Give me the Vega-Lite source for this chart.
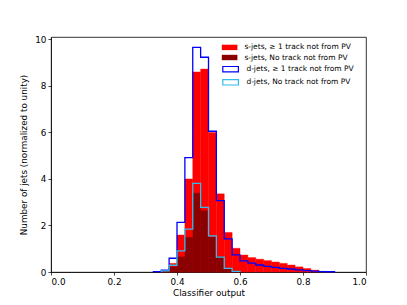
{
  "$schema": "https://vega.github.io/schema/vega-lite/v6.json",
  "width": 315,
  "height": 235,
  "autosize": {"type": "none"},
  "padding": {"left": 51, "top": 37, "right": 41, "bottom": 33},
  "background": "white",
  "config": {
    "view": {"stroke": "black", "strokeWidth": 0.8},
    "font": "DejaVu Sans",
    "axis": {
      "labelFont": "DejaVu Sans", "labelFontSize": 8.8, "labelColor": "black",
      "titleFont": "DejaVu Sans", "titleFontSize": 8.8, "titleColor": "black", "titleFontWeight": "normal",
      "tickColor": "black", "tickSize": 3.1, "tickWidth": 0.7,
      "domainColor": "black", "domainWidth": 0.7, "grid": false, "labelPadding": 2
    },
    "legend": {
      "title": null,
      "orient": "none",
      "padding": 0,
      "symbolType": "M-1.56,-0.54H1.56V0.54H-1.56Z",
      "symbolSize": 100,
      "labelFont": "DejaVu Sans",
      "labelFontSize": 7.5,
      "labelColor": "black",
      "labelOffset": 9.8,
      "rowPadding": 1.1,
      "labelLimit": 300,
      "symbolOpacity": 1
    }
  },
  "datasets": {
    "sAny": [
      {"x0": 0.35, "x1": 0.375, "y": 0.05},
      {"x0": 0.375, "x1": 0.4, "y": 0.37},
      {"x0": 0.4, "x1": 0.425, "y": 1.59},
      {"x0": 0.425, "x1": 0.45, "y": 4.0},
      {"x0": 0.45, "x1": 0.475, "y": 8.6},
      {"x0": 0.475, "x1": 0.5, "y": 8.72},
      {"x0": 0.5, "x1": 0.525, "y": 6.0},
      {"x0": 0.525, "x1": 0.55, "y": 3.36},
      {"x0": 0.55, "x1": 0.575, "y": 1.7},
      {"x0": 0.575, "x1": 0.6, "y": 1.02},
      {"x0": 0.6, "x1": 0.625, "y": 0.73},
      {"x0": 0.625, "x1": 0.65, "y": 0.62},
      {"x0": 0.65, "x1": 0.675, "y": 0.55},
      {"x0": 0.675, "x1": 0.7, "y": 0.49},
      {"x0": 0.7, "x1": 0.725, "y": 0.43},
      {"x0": 0.725, "x1": 0.75, "y": 0.37},
      {"x0": 0.75, "x1": 0.775, "y": 0.3},
      {"x0": 0.775, "x1": 0.8, "y": 0.22},
      {"x0": 0.8, "x1": 0.825, "y": 0.15},
      {"x0": 0.825, "x1": 0.85, "y": 0.08},
      {"x0": 0.85, "x1": 0.875, "y": 0.03},
      {"x0": 0.875, "x1": 0.9, "y": 0.01}
    ],
    "sNone": [
      {"x0": 0.35, "x1": 0.375, "y": 0.03},
      {"x0": 0.375, "x1": 0.4, "y": 0.22},
      {"x0": 0.4, "x1": 0.425, "y": 0.65},
      {"x0": 0.425, "x1": 0.45, "y": 1.49},
      {"x0": 0.45, "x1": 0.475, "y": 3.39},
      {"x0": 0.475, "x1": 0.5, "y": 2.64},
      {"x0": 0.5, "x1": 0.525, "y": 1.5},
      {"x0": 0.525, "x1": 0.55, "y": 0.65},
      {"x0": 0.55, "x1": 0.575, "y": 0.16},
      {"x0": 0.575, "x1": 0.6, "y": 0.03}
    ],
    "dAny": [
      {"i": 0, "x": 0.325, "y": 0},
      {"i": 1, "x": 0.325, "y": 0.02},
      {"i": 2, "x": 0.35, "y": 0.08},
      {"i": 3, "x": 0.375, "y": 0.59},
      {"i": 4, "x": 0.4, "y": 2.13},
      {"i": 5, "x": 0.425, "y": 4.92},
      {"i": 6, "x": 0.45, "y": 9.65},
      {"i": 7, "x": 0.475, "y": 9.23},
      {"i": 8, "x": 0.5, "y": 6.05},
      {"i": 9, "x": 0.525, "y": 3.07},
      {"i": 10, "x": 0.55, "y": 1.42},
      {"i": 11, "x": 0.575, "y": 0.74},
      {"i": 12, "x": 0.6, "y": 0.48},
      {"i": 13, "x": 0.625, "y": 0.38},
      {"i": 14, "x": 0.65, "y": 0.3},
      {"i": 15, "x": 0.675, "y": 0.24},
      {"i": 16, "x": 0.7, "y": 0.2},
      {"i": 17, "x": 0.725, "y": 0.16},
      {"i": 18, "x": 0.75, "y": 0.13},
      {"i": 19, "x": 0.775, "y": 0.09},
      {"i": 20, "x": 0.8, "y": 0.06},
      {"i": 21, "x": 0.825, "y": 0.04},
      {"i": 22, "x": 0.85, "y": 0.02},
      {"i": 23, "x": 0.875, "y": 0.01},
      {"i": 24, "x": 0.9, "y": 0}
    ],
    "dNone": [
      {"i": 0, "x": 0.35, "y": 0},
      {"i": 1, "x": 0.35, "y": 0.05},
      {"i": 2, "x": 0.375, "y": 0.29},
      {"i": 3, "x": 0.4, "y": 0.91},
      {"i": 4, "x": 0.425, "y": 1.84},
      {"i": 5, "x": 0.45, "y": 3.81},
      {"i": 6, "x": 0.475, "y": 2.78},
      {"i": 7, "x": 0.5, "y": 1.55},
      {"i": 8, "x": 0.525, "y": 0.64},
      {"i": 9, "x": 0.55, "y": 0.16},
      {"i": 10, "x": 0.575, "y": 0.03},
      {"i": 11, "x": 0.6, "y": 0}
    ]
  },
  "encoding": {
    "x": {"type": "quantitative", "scale": {"domain": [0, 1], "nice": false, "zero": false},
      "axis": {"title": "Classifier output", "values": [0, 0.2, 0.4, 0.6, 0.8, 1.0], "format": ".1f", "titlePadding": 3}},
    "y": {"type": "quantitative", "scale": {"domain": [0, 10.1], "nice": false},
      "axis": {"title": "Number of jets (normalized to unity)", "values": [0, 2, 4, 6, 8, 10], "format": "d", "titlePadding": 6}}
  },
  "layer": [
    {
      "data": {"name": "sAny"},
      "mark": {"type": "rect", "opacity": 1, "stroke": "#ff0000", "strokeWidth": 0.4},
      "encoding": {
        "x": {"field": "x0", "type": "quantitative"},
        "x2": {"field": "x1"},
        "y": {"field": "y", "type": "quantitative"},
        "y2": {"datum": 0},
        "fill": {"datum": "s-jets,  ≥ 1 track not from PV", "type": "nominal",
          "scale": {
            "domain": ["s-jets,  ≥ 1 track not from PV", "s-jets, No track not from PV"],
            "range": ["#ff0000", "#8b0000"]
          },
          "legend": {"legendX": 173.6, "legendY": 5.4, "symbolStrokeWidth": 0}
        }
      }
    },
    {
      "data": {"name": "sNone"},
      "mark": {"type": "rect", "opacity": 1, "stroke": "#8b0000", "strokeWidth": 0.4},
      "encoding": {
        "x": {"field": "x0", "type": "quantitative"},
        "x2": {"field": "x1"},
        "y": {"field": "y", "type": "quantitative"},
        "y2": {"datum": 0},
        "fill": {"datum": "s-jets, No track not from PV", "type": "nominal"}
      }
    },
    {
      "data": {"name": "dAny"},
      "mark": {"type": "line", "interpolate": "step-after", "strokeWidth": 1.3},
      "encoding": {
        "x": {"field": "x", "type": "quantitative"},
        "y": {"field": "y", "type": "quantitative"},
        "order": {"field": "i", "type": "quantitative"},
        "stroke": {"datum": "d-jets,  ≥ 1 track not from PV", "type": "nominal",
          "scale": {
            "domain": ["d-jets,  ≥ 1 track not from PV", "d-jets, No track not from PV"],
            "range": ["#0000ff", "#33bbee"]
          },
          "legend": {"legendX": 173.6, "legendY": 26.2, "symbolStrokeWidth": 1.2, "symbolFillColor": "white"}
        }
      }
    },
    {
      "data": {"name": "dNone"},
      "mark": {"type": "line", "interpolate": "step-after", "strokeWidth": 1.3},
      "encoding": {
        "x": {"field": "x", "type": "quantitative"},
        "y": {"field": "y", "type": "quantitative"},
        "order": {"field": "i", "type": "quantitative"},
        "stroke": {"datum": "d-jets, No track not from PV", "type": "nominal"}
      }
    }
  ]
}
